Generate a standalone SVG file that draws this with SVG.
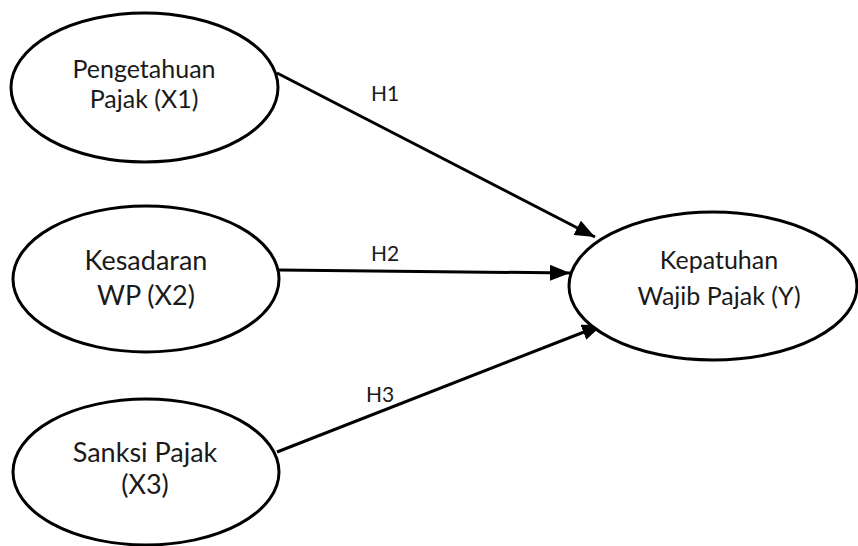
<svg xmlns="http://www.w3.org/2000/svg" width="858" height="546" viewBox="0 0 858 546">
<style>
.node ellipse{fill:#fff;stroke:#000;stroke-width:3}
.lbl{font-family:Lato,"Liberation Sans",sans-serif;font-size:25px;fill:#1a1a1a;text-anchor:middle}
.big{font-size:27px}
.h{font-family:Lato,"Liberation Sans",sans-serif;font-size:21px;fill:#1a1a1a;text-anchor:middle}
.edge{stroke:#000;stroke-width:3;fill:none;marker-end:url(#arr)}
</style>
<defs>
<marker id="arr" markerUnits="userSpaceOnUse" markerWidth="22" markerHeight="16" refX="20" refY="8" orient="auto">
<path d="M0,0 L20,8 L0,16 Z" fill="#000"/>
</marker>
</defs>
<rect width="858" height="546" fill="#fff"/>
<g id="edges">
<line class="edge" x1="277" y1="73" x2="595" y2="237"/>
<line class="edge" x1="279" y1="270" x2="570" y2="273"/>
<line class="edge" x1="277" y1="452" x2="602" y2="325"/>
<text class="h" x="385" y="101">H1</text>
<text class="h" x="385" y="261">H2</text>
<text class="h" x="380" y="402">H3</text>
</g>
<g id="x1" class="node">
<ellipse cx="144.5" cy="87.5" rx="133.5" ry="74.5"/>
<text class="lbl" x="144" y="78">Pengetahuan</text>
<text class="lbl" x="144" y="108">Pajak (X1)</text>
</g>
<g id="x2" class="node">
<ellipse cx="146" cy="279" rx="133" ry="73"/>
<text class="lbl big" x="146" y="270">Kesadaran</text>
<text class="lbl big" x="146" y="305">WP (X2)</text>
</g>
<g id="x3" class="node">
<ellipse cx="146" cy="472" rx="133" ry="73"/>
<text class="lbl big" x="145" y="462">Sanksi Pajak</text>
<text class="lbl big" x="145" y="494">(X3)</text>
</g>
<g id="y" class="node">
<ellipse cx="713" cy="286" rx="144" ry="74"/>
<text class="lbl" x="719" y="269">Kepatuhan</text>
<text class="lbl" x="719" y="305">Wajib Pajak (Y)</text>
</g>
</svg>
